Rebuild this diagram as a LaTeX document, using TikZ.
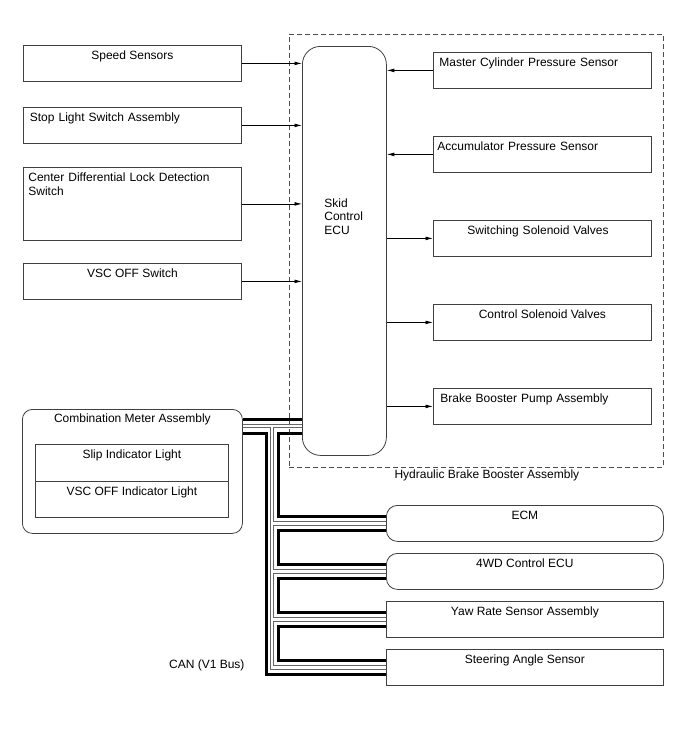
\documentclass[tikz,border=0pt]{standalone}
\usepackage{fontspec}
\setmainfont{Liberation Sans}
\usetikzlibrary{arrows.meta,calc,positioning}

\begin{document}
\begin{tikzpicture}[
  x=1pt,y=-1pt,
  >={Latex[length=7.5pt,width=3.8pt]},
  every node/.style={font=\fontsize{12}{13.5}\selectfont},
  unit/.style={draw=black!75,line width=.8pt,anchor=north west,
    text height=10pt,text depth=17pt,inner ysep=4.5pt,inner xsep=0pt},
  rndunit/.style={unit,rounded corners=11pt},
  ecubox/.style={draw=black!75,line width=.8pt,anchor=north west,rounded corners=18pt,
    align=left,text width=40pt,inner xsep=22pt,inner ysep=4.5pt,
    text height=156.5pt,text depth=243.5pt},
  group/.style={draw=black!70,line width=.7pt,dash pattern=on 5pt off 3pt,
    anchor=north west,inner sep=0pt},
  sig/.style={->,line width=.7pt},
  canblk/.style={line width=3pt,black},
  cangry/.style={draw=black!60,double=white,double distance=2.6pt,line width=.8pt}
]
  \useasboundingbox (0,0) rectangle (688,755);

  % hydraulic brake booster assembly
  \node[group,minimum width=374pt,minimum height=433pt] (hbb) at (289,34) {};
  \node[anchor=base west] (hbblabel) at (391,478) {Hydraulic Brake Booster Assembly};

  \node[ecubox] (ecu) at (302,46) {Skid\\Control\\ECU};

  % inputs on the left
  \node[unit,minimum width=218pt] (spd) at (23,45) {Speed Sensors};
  \node[unit,align=left,text width=205pt,inner xsep=6.5pt] (stp) at (23,107)
    {Stop Light Switch Assembly};
  \node[unit,align=left,text width=208pt,inner xsep=5pt,text depth=54pt] (cdl) at (23,167)
    {Center Differential Lock Detection\\Switch};
  \node[unit,minimum width=218pt] (vscsw) at (23,263) {VSC OFF Switch};

  % inside the assembly
  \node[unit,align=left,text width=206pt,inner xsep=6pt] (mcp) at (433,52)
    {Master Cylinder Pressure Sensor};
  \node[unit,align=left,text width=210pt,inner xsep=4pt] (acc) at (433,136)
    {Accumulator Pressure Sensor};
  \node[unit,align=left,text width=184pt,inner xsep=17pt] (ssv) at (433,220)
    {\hspace*{17pt}Switching Solenoid Valves};
  \node[unit,minimum width=218pt] (csv) at (433,304) {Control Solenoid Valves};
  \node[unit,align=left,text width=204pt,inner xsep=7pt] (bbp) at (433,388)
    {Brake Booster Pump Assembly};

  % combination meter
  \node[unit,rounded corners=10pt,minimum width=220pt,inner ysep=2.7pt,
    text depth=108.6pt] (meter) at (22,409) {Combination Meter Assembly};
  \node[unit,minimum width=193pt,text depth=18pt] (slip) at (35,444) {Slip Indicator Light};
  \node[unit,minimum width=193pt] (vscind) at (35,481) {VSC OFF Indicator Light};

  % CAN nodes
  \node[rndunit,minimum width=277pt] (ecm) at (386,505) {ECM};
  \node[rndunit,minimum width=277pt] (fwd) at (386,553) {4WD Control ECU};
  \node[unit,minimum width=277pt] (yaw) at (386,601) {Yaw Rate Sensor Assembly};
  \node[unit,minimum width=277pt] (steer) at (386,649) {Steering Angle Sensor};
  \node[anchor=base east] (canlabel) at (248,668) {CAN (V1 Bus)};

  \foreach \n in {spd,stp,cdl,vscsw}
    \draw[sig] (\n.east) -- (\n.east -| ecu.west);
  \foreach \n in {mcp,acc}
    \draw[sig] (\n.west) -- (\n.west -| ecu.east);
  \foreach \n in {ssv,csv,bbp}
    \draw[sig] (\n.west -| ecu.east) -- (\n.west);

  % CAN bus
  \coordinate (bus) at (272,426);
  \coordinate (meterport) at (meter.east |- bus);
  \coordinate (ecuport) at (ecu.west |- bus);
  \draw[cangry] (meterport) -- (ecuport)
    (bus) -- (bus |- steer.west) -- (steer.west)
    (bus |- ecm.west) -- (ecm.west)
    (bus |- fwd.west) -- (fwd.west)
    (bus |- yaw.west) -- (yaw.west);
  \draw[canblk] ($(meterport)+(0,-7)$) -- ($(ecuport)+(0,-7)$);
  \draw[canblk] ($(meterport)+(0,7)$) -| ($(bus |- steer.west)+(-6,7)$)
    -- ($(steer.west)+(0,7)$);
  \foreach \a/\b in {ecuport/ecm.west,ecm.west/fwd.west,fwd.west/yaw.west,yaw.west/steer.west}
    \draw[canblk] ($(\a)+(0,7)$) -| ($(bus |- \b)+(6,-7)$) -- ($(\b)+(0,-7)$);
\end{tikzpicture}
\end{document}
